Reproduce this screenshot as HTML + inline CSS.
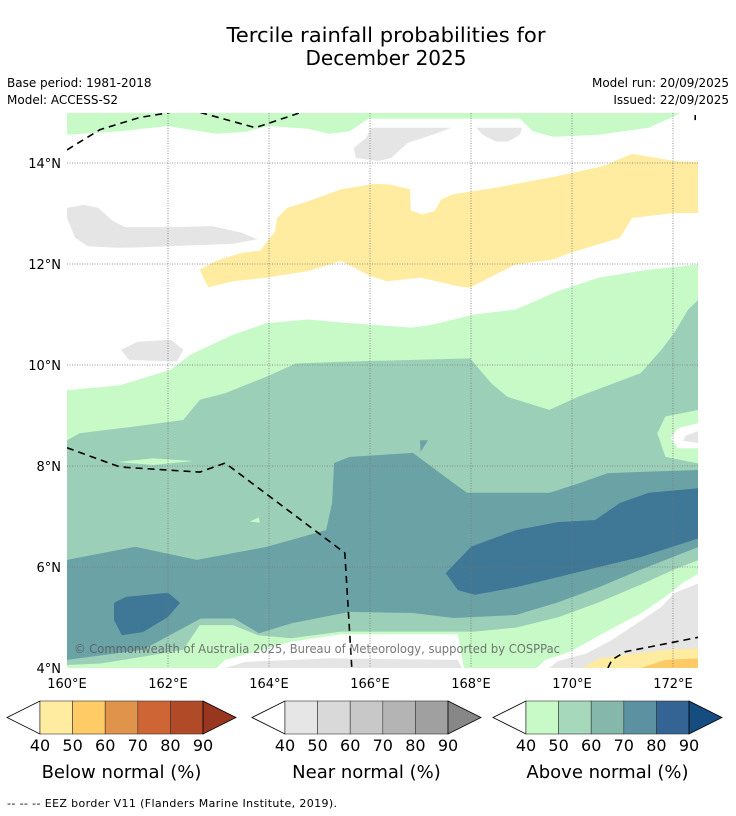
<!DOCTYPE html>
<html><head><meta charset="utf-8"><style>
body{margin:0;background:#fff;width:736px;height:816px;overflow:hidden;font-family:"DejaVu Sans","Liberation Sans",sans-serif;}
svg{position:absolute;left:0;top:0}
</style></head><body>
<svg id="chart" width="736" height="816" viewBox="0 0 736 816" font-family="DejaVu Sans, Liberation Sans, sans-serif">
<text x="386" y="42" font-size="20" text-anchor="middle" textLength="319" lengthAdjust="spacingAndGlyphs">Tercile rainfall probabilities for</text>
<text x="386" y="65" font-size="20" text-anchor="middle">December 2025</text>
<text x="7" y="87" font-size="12">Base period: 1981-2018</text>
<text x="7" y="104" font-size="12">Model: ACCESS-S2</text>
<text x="729" y="87" font-size="12" text-anchor="end">Model run: 20/09/2025</text>
<text x="729" y="104" font-size="12" text-anchor="end">Issued: 22/09/2025</text>
<defs><clipPath id="mapclip"><rect x="67" y="113" width="631" height="555"/></clipPath></defs>
<g id="map" clip-path="url(#mapclip)"></g>
<g id="grid"></g>
<g id="borders" clip-path="url(#mapclip)"></g>
<g id="axes"></g>
<text x="74" y="653" font-size="12.5" fill="#555" fill-opacity="0.8" textLength="486" lengthAdjust="spacingAndGlyphs">© Commonwealth of Australia 2025, Bureau of Meteorology, supported by COSPPac</text>
<g id="legends"></g>
<text x="7" y="807" font-size="11" textLength="330" lengthAdjust="spacing">--  --  -- EEZ border V11 (Flanders Marine Institute, 2019).</text>
</svg>
<script>
// ---- data (lon, lat) ----
const lonTicks = [160,162,164,166,168,170,172];
const latTicks = [4,6,8,10,12,14];
const legendTicks = [40,50,60,70,80,90];
const belowColors = ["#ffeca0","#fecb65","#e0934a","#cd6534","#b04a27","#993620"];
const nearColors = ["#e6e6e6","#d9d9d9","#c8c8c8","#b4b4b4","#a0a0a0","#878787"];
const aboveColors = ["#c8fac8","#a6d8bc","#85b8ab","#5b91a0","#336494","#154d80"];

const greenTop = [[160,15],[172.14,15],[172.10,14.96],[171.52,14.70],[170.53,14.56],[169.63,14.52],[169.22,14.63],[168.97,14.88],[165.97,14.88],[165.60,14.63],[165.19,14.58],[164.77,14.68],[163.99,14.73],[163.54,14.62],[162.96,14.58],[161.99,14.73],[161.07,14.63],[160,14.56]];
const grayTop1 = [[166.01,14.70],[167.61,14.70],[167.24,14.56],[166.75,14.40],[166.42,14.10],[166.17,14.04],[165.72,14.10],[165.68,14.30],[165.93,14.50]];
const grayTop2 = [[168.11,14.70],[169.01,14.70],[168.97,14.56],[168.72,14.42],[168.48,14.43],[168.23,14.56]];
const grayLeft = [[160,13.11],[160.33,13.17],[160.62,13.11],[160.91,12.85],[161.15,12.73],[162.14,12.73],[162.88,12.75],[163.46,12.62],[163.77,12.49],[163.29,12.40],[162.55,12.37],[161.48,12.33],[160.99,12.32],[160.41,12.35],[160.16,12.52],[160,12.91]];
const yellowBand = [[162.63,11.89],[162.96,12.07],[163.46,12.22],[163.83,12.27],[164.12,12.65],[164.16,12.91],[164.36,13.11],[164.77,13.24],[165.43,13.48],[166.09,13.59],[166.42,13.57],[166.79,13.48],[166.81,13.06],[167.04,12.98],[167.28,13.05],[167.41,13.28],[167.65,13.38],[168.48,13.51],[169.71,13.74],[170.62,13.94],[171.19,14.18],[171.69,14.10],[172.02,14.04],[172.51,14.02],[172.51,13.01],[172.02,13.01],[171.19,12.91],[170.95,12.52],[170.53,12.39],[169.96,12.22],[169.63,12.09],[168.89,11.99],[168.48,11.79],[167.98,11.53],[167.74,11.56],[167.00,11.73],[166.34,11.66],[166.01,11.76],[165.43,12.06],[164.77,11.86],[163.95,11.73],[163.29,11.66],[162.80,11.54],[162.72,11.69]];
const grayMid = [[161.07,10.30],[161.40,10.46],[162.06,10.50],[162.30,10.30],[162.18,10.07],[161.23,10.10]];
const greenBody = [[160,9.5],[161.05,9.6],[162.04,9.9],[162.44,10.2],[162.88,10.41],[163.29,10.60],[163.95,10.83],[164.77,10.90],[165.60,10.83],[166.83,10.74],[167.24,10.80],[168.07,11.00],[168.89,11.10],[169.71,11.46],[170.53,11.73],[171.52,11.89],[172.51,11.99],[172.51,4],[160,4]];
const green2 = [[160,8.51],[160.25,8.65],[161.32,8.78],[162.30,8.91],[162.63,9.31],[163.13,9.44],[163.95,9.77],[164.53,10.03],[165.60,10.07],[167.98,10.13],[168.40,9.64],[168.72,9.37],[169.55,9.11],[170.12,9.37],[171.36,9.84],[171.77,10.30],[172.02,10.63],[172.3,11.1],[172.51,11.3],[172.51,6.14],[172.02,5.95],[171.36,5.65],[170.53,5.3],[169.71,5.0],[168.89,4.8],[168.07,4.72],[165.43,4.72],[164.44,4.59],[163.78,4.65],[163.29,4.85],[162.63,4.85],[162.30,4.36],[161.48,4.22],[160.66,4.09],[160,4.06]];
const green3 = [[160,6.14],[161.35,6.40],[162.57,6.14],[163.96,6.40],[165.13,6.73],[165.25,7.27],[165.29,8.06],[165.60,8.18],[166.85,8.26],[167.66,7.66],[167.92,7.47],[169.56,7.47],[170.14,7.66],[170.71,7.86],[172.51,7.92],[172.51,6.40],[171.37,5.95],[170.53,5.6],[169.72,5.3],[168.89,5.05],[167.66,4.99],[166.85,5.09],[165.60,5.11],[164.46,4.89],[163.80,4.69],[163.31,4.98],[162.65,4.98],[161.50,4.36],[160,4.16]];
const green4East = [[167.50,5.88],[168.0,6.40],[168.89,6.73],[169.72,6.89],[170.46,6.93],[170.95,7.27],[171.52,7.47],[172.51,7.56],[172.51,6.57],[171.37,6.20],[170.53,6.0],[169.72,5.80],[168.89,5.60],[168.08,5.45],[167.74,5.54]];
const green4West = [[160.93,5.29],[161.17,5.41],[162.0,5.49],[162.24,5.29],[162.0,5.01],[161.50,4.71],[161.09,4.65],[160.93,4.95]];
const greenSliver = [[161.0,8.08],[161.7,8.15],[162.5,8.1],[161.7,8.02]];
const greenSpeck = [[163.62,6.9],[163.8,6.98],[163.82,6.88]];
const tealSpeck = [[166.99,8.51],[167.15,8.51],[167.0,8.28]];
const greenBulgeE = [[172.51,9.11],[171.85,8.98],[171.69,8.65],[171.85,8.18],[172.51,8.05]];
const whiteBulgeE = [[172.51,8.85],[172.1,8.75],[171.95,8.55],[172.1,8.35],[172.51,8.35]];
const grayBulgeE = [[172.51,8.7],[172.25,8.6],[172.2,8.5],[172.51,8.45]];
const whiteBottomC = [[162.96,4],[163.13,4.16],[163.62,4.29],[164.44,4.52],[165.43,4.67],[167.74,4.67],[167.86,4]];
const grayBottomC = [[163.13,4],[163.54,4.12],[165.19,4.19],[167.74,4.16],[167.82,4]];
const whiteBottomE = [[169.30,4],[169.47,4.16],[169.96,4.32],[170.37,4.55],[170.86,4.82],[171.36,5.08],[171.85,5.41],[172.18,5.68],[172.51,5.87],[172.51,4]];
const grayBottomE = [[169.55,4],[169.71,4.13],[170.29,4.29],[170.78,4.55],[171.28,4.88],[171.77,5.21],[172.02,5.48],[172.51,5.68],[172.51,4]];
const yellowBottomE = [[170.21,4],[170.53,4.19],[171.19,4.28],[171.85,4.36],[172.51,4.39],[172.51,4]];
const orangeBottomE = [[171.36,4],[171.85,4.16],[172.51,4.19],[172.51,4]];
const eezLines = [
  [[160,14.26],[160.65,14.66],[161.44,14.9],[162.04,15.0]],
  [[162.64,15.0],[163.73,14.7],[164.63,15.0]],
  [[160,8.36],[161.05,7.98],[162.63,7.88],[163.13,8.06],[165.50,6.28],[165.64,4.0]],
  [[170.71,4.0],[170.79,4.16],[171.05,4.32],[172.51,4.61]],
  [[172.44,14.95],[172.44,14.85]]
];

// ---- axis functions ----
const X = lon => 67 + (lon - 160) * 50.5;
const Y = lat => 668 - (lat - 4) * 50.5;
const NS = "http://www.w3.org/2000/svg";
function mk(tag, attrs, parent){const e=document.createElementNS(NS,tag);for(const k in attrs)e.setAttribute(k,attrs[k]);parent.appendChild(e);return e;}
const map = document.getElementById('map');
function poly(pts, fill, name){
  const e = mk('polygon',{points:pts.map(p=>X(p[0]).toFixed(1)+','+Y(p[1]).toFixed(1)).join(' '),fill:fill},map);
  
  
}
const LG="#c8fac8", G2="#9ccfb8", G3="#6ba2a6", G4="#3f7796", GR="#e5e5e5", YE="#ffeca0";
poly(greenTop, LG, 'above-40-north');
poly(grayTop1, GR, 'near-40-north-a');
poly(grayTop2, GR, 'near-40-north-b');
poly(grayLeft, GR, 'near-40-west');
poly(yellowBand, YE, 'below-40-band');
poly(greenBody, LG, 'above-40-region');
poly(grayMid, GR, 'near-40-mid');
poly(green2, G2, 'above-50-region');
poly(greenBulgeE, LG, 'above-40-east-bulge');
poly(whiteBulgeE, '#ffffff', 'neutral-east-bulge');
poly(grayBulgeE, GR, 'near-40-east-bulge');
poly(greenSliver, LG, 'above-40-sliver');
poly(greenSpeck, LG, 'above-40-speck');
poly(green3, G3, 'above-60-region');
poly(tealSpeck, G3, 'above-60-speck');
poly(green4East, G4, 'above-70-east');
poly(green4West, G4, 'above-70-west');
poly(whiteBottomC, '#ffffff', 'neutral-south-centre');
poly(grayBottomC, GR, 'near-40-south-centre');
poly(whiteBottomE, '#ffffff', 'neutral-south-east');
poly(grayBottomE, GR, 'near-40-south-east');
poly(yellowBottomE, YE, 'below-40-south-east');
poly(orangeBottomE, '#fdca65', 'below-50-south-east');

// grid
const grid = document.getElementById('grid');
lonTicks.slice(1).forEach(l=>{
  const e = mk('line',{x1:X(l),x2:X(l),y1:113,y2:668,stroke:'#777','stroke-width':0.8,'stroke-dasharray':'1 1.5'},grid);
  
  
});
latTicks.slice(1).forEach(l=>{
  const e = mk('line',{x1:67,x2:698,y1:Y(l),y2:Y(l),stroke:'#777','stroke-width':0.8,'stroke-dasharray':'1 1.5'},grid);
  
  
});
// borders
const borders = document.getElementById('borders');
eezLines.forEach(line=>{
  const e = mk('polyline',{points:line.map(p=>X(p[0]).toFixed(1)+','+Y(p[1]).toFixed(1)).join(' '),fill:'none',stroke:'#000','stroke-width':1.6,'stroke-dasharray':'7 5'},borders);
  
  
});
// axes labels
const axes = document.getElementById('axes');
lonTicks.forEach(l=>{
  const t = mk('text',{x:X(l),y:688,'font-size':13,'text-anchor':'middle'},axes);
  t.textContent = l+'°E';
  
  
});
latTicks.forEach(l=>{
  const t = mk('text',{x:61,y:Y(l)+5,'font-size':13,'text-anchor':'end'},axes);
  t.textContent = l+'°N';
  
  
});
// legends
const legends = document.getElementById('legends');
function colorbar(x0, colors, title, name){
  const g = mk('g',{},legends);
  
  
  const top=701, bot=734, mid=717.5, cw=32.6, bx=x0+33;
  mk('polygon',{points:`${x0},${mid} ${bx},${top} ${bx},${bot}`,fill:'#fff',stroke:'#000','stroke-width':0.8},g);
  colors.slice(0,5).forEach((c,i)=>{
    const r = mk('rect',{x:bx+i*cw,y:top,width:cw,height:bot-top,fill:c,stroke:'#333','stroke-width':0.6},g);
    
    
  });
  const ex = bx+5*cw;
  mk('polygon',{points:`${ex},${top} ${ex+33},${mid} ${ex},${bot}`,fill:colors[5],stroke:'#000','stroke-width':0.8},g);
  legendTicks.forEach((v,i)=>{
    const t = mk('text',{x:bx+i*cw,y:751,'font-size':16,'text-anchor':'middle'},g);
    t.textContent = v;
    
    
  });
  const t = mk('text',{x:bx+2.5*cw,y:778,'font-size':18,'text-anchor':'middle'},g);
  t.textContent = title;
  
  
}
colorbar(7, belowColors, 'Below normal (%)', 'below-normal-colorbar');
colorbar(252, nearColors, 'Near normal (%)', 'near-normal-colorbar');
colorbar(493, aboveColors, 'Above normal (%)', 'above-normal-colorbar');
</script>
</body></html>
